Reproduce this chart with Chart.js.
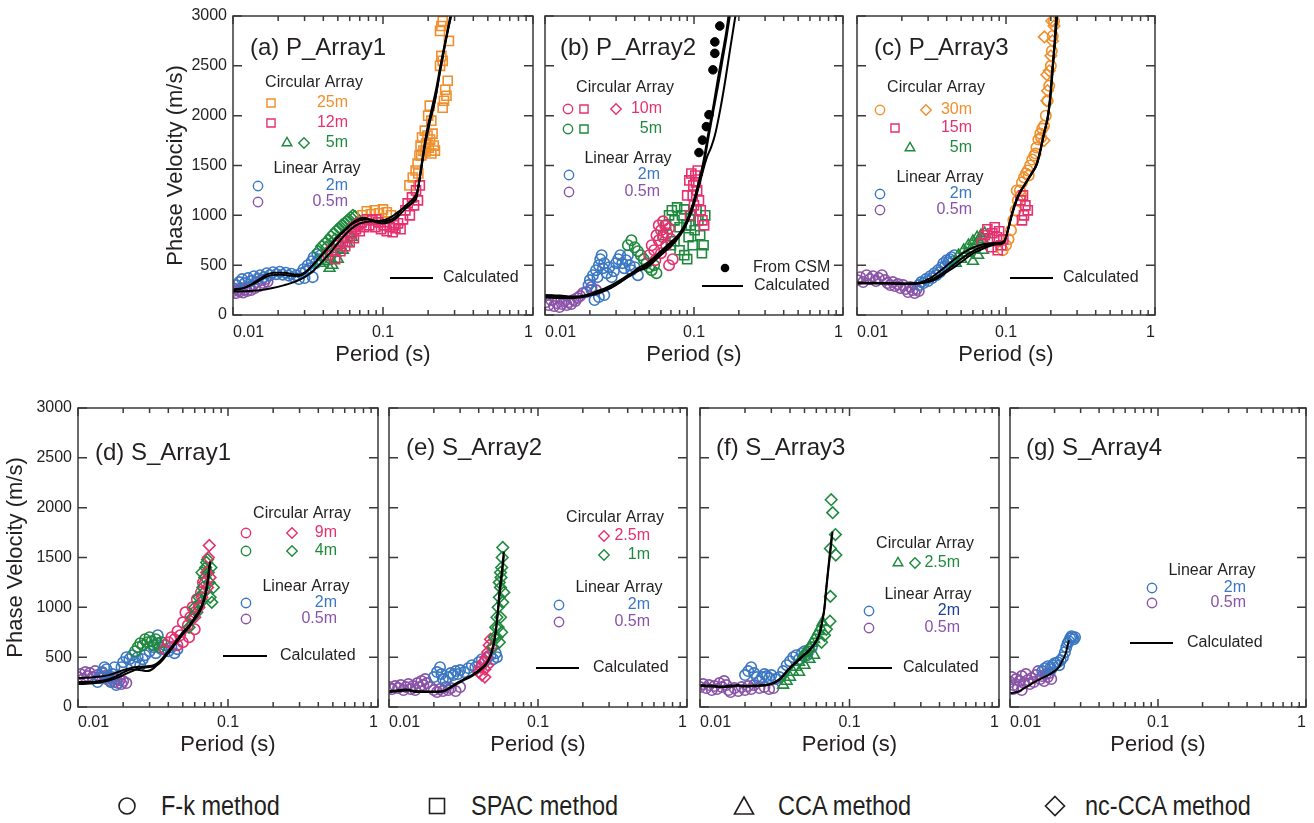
<!DOCTYPE html>
<html>
<head>
<meta charset="utf-8">
<script src="https://cdn.jsdelivr.net/npm/chart.js@4/dist/chart.umd.min.js"></script>
<style>
body { margin: 0; background: #fff; width: 1314px; height: 823px; position: relative; overflow: hidden; }
canvas { position: absolute; }
.key { position: absolute; top: 791px; font-family: 'Liberation Sans', Arial, sans-serif; font-size: 27px; line-height: 30px;
       color: #231f20; white-space: nowrap; transform: scaleX(0.87); transform-origin: 0 50%; }
</style>
</head>
<body>
<canvas id="pa"></canvas>
<canvas id="pb"></canvas>
<canvas id="pc"></canvas>
<canvas id="pd"></canvas>
<canvas id="pe"></canvas>
<canvas id="pf"></canvas>
<canvas id="pg"></canvas>

<svg width="1314" height="40" style="position:absolute;left:0;top:786" fill="none" stroke="#231f20" stroke-width="1.6">
  <circle cx="127" cy="20" r="8"/>
  <rect x="429.5" y="12.5" width="15" height="15"/>
  <polygon points="744,11 753.5,28 734.5,28"/>
  <polygon points="1055,10.5 1064.5,20 1055,29.5 1045.5,20"/>
</svg>
<div class="key" style="left:161px">F-k method</div>
<div class="key" style="left:471px">SPAC method</div>
<div class="key" style="left:778px">CCA method</div>
<div class="key" style="left:1085px">nc-CCA method</div>

<script>
var xTicks = [0.01, 0.1, 1];
var xMinorTicks = [0.02, 0.03, 0.04, 0.05, 0.06, 0.07, 0.08, 0.09, 0.2, 0.3, 0.4, 0.5, 0.6, 0.7, 0.8, 0.9];
var yTicks = [0, 500, 1000, 1500, 2000, 2500, 3000];

// (a) P_Array1
var aSpac25 = [[0.073,1000],[0.078,1040],[0.083,1010],[0.088,1050],[0.094,1020],[0.100,1060],[0.106,1030],[0.113,1000],[0.150,1300],[0.158,1380],[0.165,1450],[0.170,1520],[0.175,1600],[0.178,1700],[0.182,1780],[0.186,1650],[0.190,1850],[0.194,1720],[0.198,1800],[0.202,1680],[0.206,1760],[0.210,1620],[0.214,1820],[0.218,1700],[0.222,1650],[0.200,2000],[0.205,2100],[0.210,1950],[0.250,2080],[0.255,2150],[0.260,2260],[0.265,2200],[0.270,2350],[0.240,2500],[0.245,2600],[0.250,2550],[0.240,2850],[0.245,2900],[0.250,2950],[0.275,2750],[0.180,1600],[0.192,1640],[0.172,1420]];
var aSpac12 = [[0.043,600],[0.0455,650],[0.048,560],[0.050,700],[0.052,640],[0.054,740],[0.056,690],[0.058,780],[0.060,730],[0.062,820],[0.064,770],[0.066,860],[0.068,900],[0.070,840],[0.072,930],[0.075,880],[0.078,960],[0.081,900],[0.085,950],[0.089,880],[0.093,930],[0.097,860],[0.101,900],[0.106,840],[0.111,880],[0.116,830],[0.121,870],[0.126,920],[0.131,860],[0.136,960],[0.141,1050],[0.146,1120],[0.151,1000],[0.156,1180],[0.161,1100],[0.166,1250],[0.171,1150],[0.176,1300],[0.064,880],[0.070,920],[0.090,960],[0.118,900]];
var aCca5 = [[0.038,520],[0.040,580],[0.042,540],[0.044,470],[0.046,500],[0.048,620],[0.050,660],[0.052,700],[0.054,650],[0.056,760],[0.058,720],[0.060,820],[0.062,780],[0.045,560],[0.050,560]];
var aNcca5 = [[0.037,640],[0.039,690],[0.041,720],[0.043,750],[0.045,790],[0.047,820],[0.049,850],[0.051,870],[0.053,900],[0.055,920],[0.057,940],[0.059,960],[0.061,980],[0.063,1000],[0.065,990],[0.042,680],[0.048,760]];
var aFk2 = [[0.0105,300],[0.0110,330],[0.0115,360],[0.0120,320],[0.0126,370],[0.0132,340],[0.0138,390],[0.0145,360],[0.0152,400],[0.0160,380],[0.0168,420],[0.0176,400],[0.0185,430],[0.0195,410],[0.0205,435],[0.0215,405],[0.0225,425],[0.0235,395],[0.0245,415],[0.0255,380],[0.0265,400],[0.0275,360],[0.0285,420],[0.0295,460],[0.0305,440],[0.0315,500],[0.0325,470],[0.0335,540],[0.0345,580],[0.0355,520],[0.0365,610],[0.0375,560],[0.0385,600],[0.0300,370],[0.0340,380]];
var aFk05 = [[0.0100,240],[0.0102,265],[0.0105,220],[0.0108,250],[0.0111,235],[0.0114,270],[0.0117,225],[0.0120,255],[0.0124,240],[0.0128,280],[0.0132,250],[0.0136,300],[0.0140,270],[0.0145,330],[0.0150,290],[0.0155,350],[0.0160,320],[0.0165,360],[0.0170,335]];
var aCalc1 = [[0.0100,250],[0.0115,265],[0.0130,300],[0.0150,360],[0.0170,410],[0.0190,425],[0.0220,425],[0.0250,410],[0.0280,405],[0.0310,440],[0.0350,520],[0.0400,620],[0.0450,710],[0.0500,790],[0.0560,860],[0.0620,920],[0.0680,960],[0.0750,975],[0.0820,955],[0.0900,930],[0.1000,920],[0.1100,930],[0.1200,960],[0.1300,1010],[0.1400,1060],[0.1500,1100],[0.1600,1140],[0.1680,1190],[0.1800,1490],[0.1900,1720],[0.2050,1950],[0.2220,2160],[0.2400,2450],[0.2600,2730],[0.2850,3050]];
var aCalc2 = [[0.0100,255],[0.0120,275],[0.0140,320],[0.0160,370],[0.0180,400],[0.0210,405],[0.0240,395],[0.0270,390],[0.0300,420],[0.0340,500],[0.0390,600],[0.0450,700],[0.0500,780],[0.0560,850],[0.0620,910],[0.0700,950],[0.0800,960],[0.0900,945],[0.1000,940],[0.1100,950],[0.1200,980],[0.1300,1040],[0.1400,1090],[0.1500,1130],[0.1600,1170],[0.1700,1250],[0.1800,1470],[0.1900,1690],[0.2050,1930],[0.2220,2150],[0.2400,2440],[0.2600,2720],[0.2880,3050]];
var aCalc3 = [[0.0100,235],[0.0120,238],[0.0150,248],[0.0180,268],[0.0220,300],[0.0260,335],[0.0300,380],[0.0340,440],[0.0380,510],[0.0430,600],[0.0500,720],[0.0580,830],[0.0660,900],[0.0750,930],[0.0850,940],[0.0950,945],[0.1050,960],[0.1150,990],[0.1250,1030],[0.1400,1080],[0.1550,1120],[0.1650,1170],[0.1750,1350],[0.1850,1600],[0.1950,1830],[0.2100,2050],[0.2250,2250],[0.2450,2550],[0.2650,2800],[0.2900,3050]];

// (b) P_Array2
var bCsm = [[0.149,2900],[0.138,2740],[0.138,2625],[0.134,2460],[0.126,2010],[0.121,1890],[0.114,1755],[0.108,1630]];
var bSpac10 = [[0.090,1200],[0.093,1350],[0.096,1420],[0.099,1300],[0.102,1400],[0.105,1250],[0.108,1150],[0.111,1050],[0.114,950],[0.117,900],[0.100,1100],[0.094,1000],[0.106,1450],[0.098,1200],[0.103,1330]];
var bFk10 = [[0.050,600],[0.052,700],[0.054,650],[0.056,800],[0.058,750],[0.060,850],[0.062,780],[0.064,900],[0.066,820],[0.068,870],[0.070,760],[0.055,550],[0.060,620],[0.065,700],[0.072,560],[0.058,900],[0.062,940],[0.068,500]];
var bSpac5 = [[0.062,800],[0.065,900],[0.068,1000],[0.071,1050],[0.074,950],[0.077,1080],[0.080,880],[0.083,1000],[0.086,1060],[0.089,900],[0.092,780],[0.095,1000],[0.098,700],[0.101,850],[0.104,1050],[0.107,950],[0.110,800],[0.113,620],[0.116,700],[0.119,1000],[0.086,600],[0.090,560],[0.080,650],[0.074,740],[0.070,700],[0.095,900]];
var bFk5 = [[0.036,700],[0.038,750],[0.040,680],[0.042,640],[0.044,600],[0.046,560],[0.048,520],[0.050,480],[0.052,450],[0.054,500],[0.056,420]];
var bFk2 = [[0.0196,300],[0.0200,350],[0.0205,250],[0.0210,400],[0.0220,450],[0.0225,380],[0.0230,500],[0.0235,560],[0.0240,600],[0.0245,470],[0.0250,520],[0.0260,420],[0.0270,480],[0.0280,380],[0.0290,440],[0.0300,520],[0.0310,560],[0.0320,600],[0.0330,520],[0.0340,470],[0.0350,550],[0.0360,600],[0.0370,500],[0.0380,450],[0.0400,480],[0.0420,400],[0.0215,150],[0.0230,180],[0.0250,200]];
var bFk05 = [[0.0102,130],[0.0106,100],[0.0110,150],[0.0115,90],[0.0120,120],[0.0125,80],[0.0130,110],[0.0135,140],[0.0140,100],[0.0145,130],[0.0150,110],[0.0155,150],[0.0160,140],[0.0165,170],[0.0172,190],[0.0180,220],[0.0190,230],[0.0205,280],[0.0220,250]];
var bCalc1 = [[0.0100,190],[0.0125,185],[0.0150,180],[0.0168,185],[0.0190,200],[0.0220,235],[0.0250,265],[0.0280,300],[0.0320,350],[0.0370,410],[0.0420,450],[0.0475,490],[0.0550,570],[0.0630,650],[0.0710,720],[0.0800,800],[0.0890,920],[0.0980,1090],[0.1060,1270],[0.1150,1470],[0.1250,1780],[0.1350,2050],[0.1450,2300],[0.1550,2550],[0.1650,2780],[0.1760,3050]];
var bCalc2 = [[0.0100,200],[0.0125,195],[0.0150,185],[0.0168,180],[0.0190,190],[0.0220,220],[0.0250,250],[0.0280,280],[0.0320,330],[0.0370,390],[0.0420,440],[0.0475,470],[0.0550,550],[0.0630,630],[0.0710,700],[0.0800,790],[0.0890,910],[0.0980,1070],[0.1060,1250],[0.1150,1450],[0.1220,1580],[0.1300,1680],[0.1380,1800],[0.1500,2060],[0.1620,2350],[0.1740,2650],[0.1850,2900],[0.1920,3050]];
var bCalc3 = [[0.0100,175],[0.0125,170],[0.0150,170],[0.0168,175],[0.0190,190],[0.0220,210],[0.0250,240],[0.0280,275],[0.0320,330],[0.0370,400],[0.0420,470],[0.0475,510],[0.0550,590],[0.0630,670],[0.0710,740],[0.0800,820],[0.0890,940],[0.0980,1110],[0.1060,1300],[0.1150,1520],[0.1250,1830],[0.1350,2100],[0.1450,2380],[0.1550,2620],[0.1650,2850],[0.1720,3050]];

// (c) P_Array3
var cFk30 = [[0.095,650],[0.100,700],[0.104,760],[0.108,850],[0.112,950],[0.116,1050],[0.120,1150],[0.124,1250],[0.128,1330],[0.132,1380],[0.136,1420],[0.140,1450],[0.145,1500],[0.150,1560],[0.155,1600],[0.160,1680],[0.165,1760],[0.170,1820],[0.175,1870],[0.180,1900],[0.185,2000],[0.190,2150],[0.195,2300],[0.200,2500],[0.203,2650],[0.206,2800],[0.210,2950],[0.118,1250],[0.126,1200],[0.142,1400],[0.158,1620],[0.172,1780]];
var cNcca30 = [[0.190,2250],[0.195,2450],[0.200,2600],[0.205,2750],[0.210,2900],[0.188,2150],[0.188,2410],[0.181,2790],[0.203,2950],[0.180,1750]];
var cSpac15 = [[0.069,720],[0.072,800],[0.075,860],[0.078,760],[0.081,820],[0.084,880],[0.087,780],[0.090,840],[0.093,700],[0.096,760],[0.088,650],[0.080,680],[0.125,1150],[0.130,1200],[0.135,1100],[0.140,1050],[0.132,1000],[0.128,950]];
var cCca5 = [[0.046,520],[0.048,600],[0.050,560],[0.052,650],[0.054,620],[0.056,700],[0.058,660],[0.060,740],[0.062,700],[0.064,780],[0.066,740],[0.068,800],[0.070,760],[0.072,820],[0.060,540],[0.065,600],[0.070,650]];
var cFk2 = [[0.026,300],[0.027,330],[0.028,320],[0.029,360],[0.030,340],[0.031,390],[0.032,370],[0.033,420],[0.034,400],[0.035,450],[0.036,430],[0.037,480],[0.038,520],[0.039,490],[0.040,550],[0.041,530],[0.042,560],[0.043,580],[0.044,540],[0.045,600]];
var cFk05 = [[0.0100,350],[0.0105,380],[0.0110,330],[0.0116,400],[0.0122,360],[0.0128,390],[0.0134,340],[0.0140,370],[0.0147,400],[0.0154,350],[0.0160,320],[0.0167,300],[0.0174,330],[0.0180,290],[0.0188,310],[0.0196,270],[0.0204,300],[0.0212,260],[0.0220,230],[0.0228,280],[0.0236,250],[0.0244,220],[0.0252,260],[0.0260,240]];
var cCalc1 = [[0.0100,320],[0.0130,320],[0.0160,318],[0.0200,315],[0.0240,318],[0.0270,330],[0.0310,370],[0.0360,440],[0.0410,510],[0.0470,580],[0.0540,640],[0.0610,680],[0.0700,710],[0.0800,720],[0.0900,725],[0.0970,740],[0.1020,830],[0.1080,980],[0.1150,1120],[0.1240,1230],[0.1350,1320],[0.1500,1430],[0.1600,1500],[0.1700,1650],[0.1800,1820],[0.1920,2000],[0.2000,2250],[0.2060,2490],[0.2130,2750],[0.2200,3050]];
var cCalc2 = [[0.0100,325],[0.0160,320],[0.0220,315],[0.0260,320],[0.0300,340],[0.0350,390],[0.0400,450],[0.0460,520],[0.0530,590],[0.0600,640],[0.0680,680],[0.0780,705],[0.0880,715],[0.0970,730],[0.1030,850],[0.1100,1010],[0.1180,1150],[0.1260,1250],[0.1380,1340],[0.1520,1440],[0.1620,1520],[0.1720,1680],[0.1820,1850],[0.1940,2050],[0.2020,2300],[0.2080,2550],[0.2150,2800],[0.2220,3050]];
var cCalc3 = [[0.0100,315],[0.0160,315],[0.0220,310],[0.0260,315],[0.0300,330],[0.0340,360],[0.0390,420],[0.0450,480],[0.0520,550],[0.0590,610],[0.0670,650],[0.0770,690],[0.0870,710],[0.0960,720],[0.1010,800],[0.1070,950],[0.1140,1100],[0.1220,1210],[0.1330,1300],[0.1480,1420],[0.1580,1490],[0.1680,1620],[0.1780,1800],[0.1900,1980],[0.1980,2200],[0.2040,2450],[0.2110,2700],[0.2180,3050]];

// (d) S_Array1
var dNcca9 = [[0.060,900],[0.064,1000],[0.067,1100],[0.070,1250],[0.072,1350],[0.074,1500],[0.075,1620],[0.073,1200],[0.076,1300]];
var dFk9 = [[0.038,580],[0.040,650],[0.042,700],[0.044,680],[0.046,760],[0.048,720],[0.050,850],[0.052,950],[0.054,820],[0.056,900],[0.058,1000],[0.060,950],[0.062,1080],[0.064,1020],[0.066,1150],[0.068,1250],[0.046,620],[0.050,650],[0.055,700],[0.060,780]];
var dNcca4 = [[0.055,800],[0.058,900],[0.060,1000],[0.062,950],[0.064,1100],[0.066,1050],[0.068,1200],[0.070,1300],[0.071,1400],[0.072,1450],[0.073,1480],[0.074,1350],[0.075,1250],[0.076,1100],[0.078,1050],[0.080,1200],[0.077,1400],[0.069,1150],[0.067,1350]];
var dFk4 = [[0.024,560],[0.025,600],[0.026,640],[0.027,620],[0.028,680],[0.029,650],[0.030,700],[0.031,660],[0.032,620],[0.033,680],[0.034,640],[0.035,600],[0.036,650]];
var dFk2 = [[0.0135,250],[0.0140,300],[0.0145,350],[0.0150,400],[0.0155,380],[0.0160,300],[0.0165,250],[0.0170,330],[0.0175,400],[0.0180,220],[0.0195,400],[0.0200,450],[0.0210,500],[0.0220,480],[0.0230,520],[0.0240,450],[0.0250,500],[0.0260,420],[0.0270,480],[0.0280,520],[0.0300,560],[0.0320,600],[0.0340,720],[0.0330,540],[0.0360,580],[0.0380,620],[0.0400,560],[0.0420,600],[0.0440,540],[0.0460,580]];
var dFk05 = [[0.0100,300],[0.0104,330],[0.0108,280],[0.0112,350],[0.0116,310],[0.0120,340],[0.0125,300],[0.0130,360],[0.0135,320],[0.0140,290],[0.0145,340],[0.0150,310],[0.0155,280],[0.0160,300],[0.0165,260],[0.0170,290],[0.0175,250],[0.0180,280],[0.0185,240],[0.0190,270],[0.0195,230],[0.0200,260],[0.0210,240]];
var dCalc1 = [[0.0100,290],[0.0120,295],[0.0140,305],[0.0160,320],[0.0180,345],[0.0200,370],[0.0230,395],[0.0260,405],[0.0290,410],[0.0320,420],[0.0350,460],[0.0380,520],[0.0420,600],[0.0460,680],[0.0500,750],[0.0550,820],[0.0600,900],[0.0650,980],[0.0690,1080],[0.0720,1200],[0.0740,1320],[0.0760,1440]];
var dCalc2 = [[0.0100,230],[0.0120,235],[0.0140,245],[0.0160,265],[0.0180,290],[0.0200,320],[0.0230,360],[0.0260,390],[0.0290,400],[0.0320,405],[0.0350,440],[0.0380,500],[0.0420,580],[0.0460,660],[0.0500,730],[0.0550,800],[0.0600,880],[0.0650,960],[0.0690,1060],[0.0720,1180],[0.0740,1300],[0.0760,1460]];
var dCalc3 = [[0.0100,250],[0.0120,250],[0.0140,260],[0.0160,280],[0.0180,310],[0.0200,345],[0.0230,380],[0.0260,370],[0.0290,360],[0.0320,390],[0.0350,450],[0.0380,510],[0.0420,590],[0.0460,670],[0.0500,740],[0.0550,810],[0.0600,890],[0.0650,970],[0.0690,1070],[0.0720,1190],[0.0740,1310],[0.0750,1420]];

// (e) S_Array2
var eNcca25 = [[0.040,350],[0.041,400],[0.042,320],[0.043,450],[0.044,380],[0.045,500],[0.046,550],[0.047,620],[0.048,680],[0.046,420],[0.044,300],[0.049,600]];
var eNcca1 = [[0.050,600],[0.051,700],[0.052,800],[0.053,900],[0.054,1000],[0.055,1100],[0.056,1200],[0.0565,1300],[0.057,1400],[0.0575,1500],[0.058,1600],[0.056,1350],[0.055,1250],[0.054,800],[0.053,700],[0.055,650],[0.057,750],[0.056,900],[0.059,1150],[0.058,1050]];
var eFk2 = [[0.020,300],[0.021,350],[0.022,400],[0.0225,330],[0.023,280],[0.024,260],[0.025,300],[0.026,340],[0.027,320],[0.028,360],[0.029,330],[0.030,370],[0.032,350],[0.034,390],[0.036,420],[0.038,400],[0.040,450],[0.042,480],[0.044,460],[0.046,500],[0.048,520],[0.050,480],[0.052,540],[0.053,500]];
var eFk05 = [[0.0100,200],[0.0105,180],[0.0110,210],[0.0115,190],[0.0120,220],[0.0125,170],[0.0130,200],[0.0135,230],[0.0140,180],[0.0145,210],[0.0150,170],[0.0155,240],[0.0160,200],[0.0165,260],[0.0170,220],[0.0175,280],[0.0180,240],[0.0190,200],[0.0200,170],[0.0210,150],[0.0220,180],[0.0230,160],[0.0240,200],[0.0250,170],[0.0260,190],[0.0280,160],[0.0300,200]];
var eCalc1 = [[0.0100,160],[0.0120,170],[0.0130,175],[0.0150,160],[0.0180,155],[0.0210,155],[0.0240,170],[0.0270,220],[0.0310,270],[0.0360,320],[0.0410,380],[0.0450,440],[0.0480,520],[0.0500,620],[0.0520,760],[0.0540,1000],[0.0550,1150],[0.0570,1350],[0.0590,1560]];
var eCalc2 = [[0.0100,150],[0.0120,160],[0.0135,165],[0.0150,150],[0.0180,150],[0.0210,150],[0.0240,165],[0.0270,210],[0.0310,260],[0.0360,310],[0.0410,370],[0.0450,430],[0.0480,510],[0.0500,600],[0.0520,740],[0.0540,970],[0.0555,1150],[0.0575,1350],[0.0590,1520]];

// (f) S_Array3
var fNcca25 = [[0.0754,2080],[0.0772,1950],[0.0805,1730],[0.0745,1590],[0.081,1525],[0.0745,1110],[0.074,860],[0.068,720],[0.065,650],[0.070,780]];
var fCca25 = [[0.036,220],[0.038,260],[0.040,300],[0.042,350],[0.044,400],[0.046,450],[0.048,500],[0.050,540],[0.052,560],[0.054,600],[0.056,640],[0.058,680],[0.060,720],[0.062,760],[0.064,800],[0.066,850],[0.046,350],[0.050,420],[0.054,480],[0.058,520]];
var fFk2 = [[0.020,320],[0.021,360],[0.022,400],[0.023,340],[0.024,300],[0.025,260],[0.026,300],[0.027,330],[0.028,310],[0.029,290],[0.030,320],[0.032,280],[0.034,300],[0.036,360],[0.038,420],[0.040,460],[0.042,500],[0.044,520],[0.046,480],[0.048,540],[0.050,560],[0.052,520],[0.054,580],[0.056,600]];
var fFk05 = [[0.0100,200],[0.0105,230],[0.0110,190],[0.0115,220],[0.0120,170],[0.0125,210],[0.0130,180],[0.0135,240],[0.0140,200],[0.0145,260],[0.0150,220],[0.0155,170],[0.0160,150],[0.0170,190],[0.0180,160],[0.0190,200],[0.0200,170],[0.0210,210],[0.0220,180],[0.0230,220],[0.0250,190],[0.0270,200],[0.0290,180],[0.0310,190]];
var fCalc1 = [[0.0100,220],[0.0120,215],[0.0140,205],[0.0160,215],[0.0180,220],[0.0200,210],[0.0230,215],[0.0260,220],[0.0300,235],[0.0340,280],[0.0390,380],[0.0440,455],[0.0490,520],[0.0540,575],[0.0590,650],[0.0630,740],[0.0660,880],[0.0680,1000],[0.0700,1200],[0.0715,1340],[0.0740,1550],[0.0764,1740]];
var fCalc2 = [[0.0100,210],[0.0120,205],[0.0140,200],[0.0160,205],[0.0180,212],[0.0200,205],[0.0230,208],[0.0260,212],[0.0300,228],[0.0340,270],[0.0390,370],[0.0440,445],[0.0490,510],[0.0540,565],[0.0590,640],[0.0630,730],[0.0660,870],[0.0680,990],[0.0700,1190],[0.0720,1360],[0.0745,1560],[0.0770,1760]];

// (g) S_Array4
var gFk2 = [[0.0165,360],[0.0172,390],[0.0180,410],[0.0188,400],[0.0195,420],[0.0200,440],[0.0210,450],[0.0220,470],[0.0228,500],[0.0235,550],[0.0240,600],[0.0245,640],[0.0250,660],[0.0255,690],[0.0260,710],[0.0265,700],[0.0270,680],[0.0275,700],[0.0190,380],[0.0215,420]];
var gFk05 = [[0.0100,250],[0.0103,300],[0.0106,220],[0.0110,280],[0.0113,200],[0.0116,260],[0.0120,310],[0.0124,240],[0.0128,330],[0.0132,270],[0.0136,230],[0.0140,290],[0.0145,250],[0.0150,320],[0.0155,360],[0.0160,280],[0.0165,310],[0.0170,260],[0.0175,330],[0.0180,300],[0.0185,340],[0.0190,280],[0.0105,180],[0.0120,170]];
var gCalc1 = [[0.0100,140],[0.0108,145],[0.0116,160],[0.0125,190],[0.0134,215],[0.0142,240],[0.0155,270],[0.0170,300],[0.0184,325],[0.0200,360],[0.0214,400],[0.0225,460],[0.0238,540],[0.0250,670]];

var ORANGE = '#ef8f2e', PINK = '#e5316f', GREEN = '#1f8a3d', BLUE = '#3b77c2', DBLUE = '#1d3f96', PURPLE = '#8a53a8', INK = '#231f20';
var FONT = "'Liberation Sans', Arial, Helvetica, sans-serif";
var RADIUS = { circle: 5.2, rect: 6.4, triangle: 6.2, rectRot: 5.8, dot: 4.3 };

Chart.defaults.font.family = FONT;
Chart.defaults.color = INK;

function pts(data, color, shape) {
  return {
    data: data, showLine: false, pointStyle: shape, pointRadius: RADIUS[shape],
    pointBorderColor: color, pointBackgroundColor: 'rgba(0,0,0,0)', pointBorderWidth: 1.6
  };
}
function dots(data) {
  return { data: data, showLine: false, pointStyle: 'circle', pointRadius: RADIUS.dot,
    pointBorderColor: '#000', pointBackgroundColor: '#000', pointBorderWidth: 1 };
}
function calc(data) {
  return { data: data, showLine: true, pointRadius: 0, borderColor: '#000', borderWidth: 2,
    cubicInterpolationMode: 'monotone', fill: false, clip: 0 };
}

function drawMark(ctx, shape, x, y, color) {
  var r = shape === 'dot' ? RADIUS.dot : RADIUS[shape] * 0.9;
  ctx.save();
  ctx.strokeStyle = color; ctx.fillStyle = color; ctx.lineWidth = 1.4;
  ctx.beginPath();
  if (shape === 'circle' || shape === 'dot') {
    ctx.arc(x, y, r, 0, Math.PI * 2);
  } else if (shape === 'rect') {
    var s = r * Math.SQRT1_2;
    ctx.rect(x - s, y - s, 2 * s, 2 * s);
  } else if (shape === 'triangle') {
    ctx.moveTo(x, y - r);
    ctx.lineTo(x + r * Math.sin(2 * Math.PI / 3), y - r * Math.cos(2 * Math.PI / 3));
    ctx.lineTo(x + r * Math.sin(4 * Math.PI / 3), y - r * Math.cos(4 * Math.PI / 3));
    ctx.closePath();
  } else if (shape === 'rectRot') {
    ctx.moveTo(x, y - r); ctx.lineTo(x + r, y); ctx.lineTo(x, y + r); ctx.lineTo(x - r, y);
    ctx.closePath();
  }
  if (shape === 'dot') ctx.fill(); else ctx.stroke();
  ctx.restore();
}

// frame, inward ticks, panel label and the in-plot keys
function decoPlugin(title, notes) {
  return {
    id: 'deco',
    afterDraw: function (chart) {
      var ctx = chart.ctx, a = chart.chartArea, xs = chart.scales.x, ys = chart.scales.y;
      ctx.save();
      ctx.strokeStyle = '#3a3a3a';
      ctx.lineWidth = 1.5;
      ctx.strokeRect(a.left, a.top, a.right - a.left, a.bottom - a.top);
      ctx.beginPath();
      xMinorTicks.forEach(function (v) {
        var px = xs.getPixelForValue(v);
        ctx.moveTo(px, a.top); ctx.lineTo(px, a.top + 5);
        ctx.moveTo(px, a.bottom); ctx.lineTo(px, a.bottom - 5);
      });
      xTicks.forEach(function (v) {
        var px = xs.getPixelForValue(v);
        ctx.moveTo(px, a.top); ctx.lineTo(px, a.top + 8);
        ctx.moveTo(px, a.bottom); ctx.lineTo(px, a.bottom - 8);
      });
      yTicks.forEach(function (v) {
        var py = ys.getPixelForValue(v);
        ctx.moveTo(a.left, py); ctx.lineTo(a.left + 9, py);
        ctx.moveTo(a.right, py); ctx.lineTo(a.right - 9, py);
      });
      ctx.stroke();

      ctx.fillStyle = INK;
      ctx.textBaseline = 'middle';
      ctx.textAlign = 'left';
      ctx.font = '24px ' + FONT;
      ctx.fillText(title[0], a.left + title[1], a.top + title[2]);

      ctx.font = '16px ' + FONT;
      notes.forEach(function (n) {
        var x = a.left + n.x, y = a.top + n.y;
        if (n.mark) {
          drawMark(ctx, n.mark, x, y, n.c);
        } else if (n.line) {
          ctx.strokeStyle = '#000'; ctx.lineWidth = 2;
          ctx.beginPath(); ctx.moveTo(x, y); ctx.lineTo(a.left + n.line, y); ctx.stroke();
        } else {
          ctx.fillStyle = n.c || INK;
          ctx.textAlign = n.al || 'left';
          ctx.fillText(n.t, x, y);
        }
      });
      ctx.restore();
    }
  };
}

function makePanel(id, g, datasets, title, notes) {
  var c = document.getElementById(id);
  var pt = 16, pr = 10;
  c.width = g.lw + g.w + pr;
  c.height = pt + 299 + g.bh;
  c.style.left = (g.left - g.lw) + 'px';
  c.style.top = (g.top - pt) + 'px';
  new Chart(c, {
    type: 'scatter',
    data: { datasets: datasets },
    options: {
      responsive: false, animation: false, devicePixelRatio: 1, events: [],
      layout: { padding: { top: pt, right: pr, left: 0, bottom: 0 } },
      plugins: { legend: { display: false }, tooltip: { enabled: false } },
      scales: {
        x: {
          type: 'logarithmic', min: 0.01, max: 1,
          afterBuildTicks: function (s) { s.ticks = xTicks.map(function (v) { return { value: v }; }); },
          afterFit: function (s) { s.height = g.bh; },
          grid: { display: false, drawTicks: false }, border: { display: false },
          ticks: { autoSkip: false, maxRotation: 0, align: 'inner', padding: g.xpad, color: INK,
                   font: { size: 16 }, callback: function (v) { return String(v); } },
          title: { display: true, text: 'Period (s)', color: INK, font: { size: 22 }, padding: { top: 0, bottom: 3 } }
        },
        y: {
          min: 0, max: 3000,
          afterBuildTicks: function (s) { s.ticks = yTicks.map(function (v) { return { value: v }; }); },
          afterFit: function (s) { s.width = g.lw; },
          grid: { display: false, drawTicks: false }, border: { display: false },
          ticks: { display: g.ylab, padding: 6, color: INK, font: { size: 16 },
                   callback: function (v) { return String(v); } },
          title: { display: g.ylab, text: 'Phase Velocity (m/s)', color: INK, font: { size: 22 }, padding: { top: 0, bottom: 0 } }
        }
      }
    },
    plugins: [decoPlugin(title, notes)]
  });
}

makePanel('pa', { left: 233, top: 16, w: 300, lw: 70, bh: 56, xpad: 8, ylab: true }, [
  calc(aCalc1), calc(aCalc2), calc(aCalc3),
  pts(aSpac12, PINK, 'rect'), pts(aSpac25, ORANGE, 'rect'),
  pts(aCca5, GREEN, 'triangle'), pts(aNcca5, GREEN, 'rectRot'),
  pts(aFk2, BLUE, 'circle'), pts(aFk05, PURPLE, 'circle')
], ['(a) P_Array1', 17, 32], [
  { t: 'Circular Array', x: 81, y: 67, al: 'center' },
  { mark: 'rect', c: ORANGE, x: 38, y: 87 }, { t: '25m', c: ORANGE, x: 115, y: 87, al: 'right' },
  { mark: 'rect', c: PINK, x: 38, y: 107 }, { t: '12m', c: PINK, x: 115, y: 107, al: 'right' },
  { mark: 'triangle', c: GREEN, x: 54, y: 127 }, { mark: 'rectRot', c: GREEN, x: 71, y: 127 },
  { t: '5m', c: GREEN, x: 115, y: 127, al: 'right' },
  { t: 'Linear Array', x: 84, y: 153, al: 'center' },
  { mark: 'circle', c: BLUE, x: 25, y: 170 }, { t: '2m', c: BLUE, x: 115, y: 170, al: 'right' },
  { mark: 'circle', c: PURPLE, x: 25, y: 186 }, { t: '0.5m', c: PURPLE, x: 115, y: 186, al: 'right' },
  { line: 200, x: 157, y: 262 }, { t: 'Calculated', x: 210, y: 262 }
]);

makePanel('pb', { left: 545, top: 16, w: 298, lw: 12, bh: 56, xpad: 8, ylab: false }, [
  calc(bCalc1), calc(bCalc2), calc(bCalc3), dots(bCsm),
  pts(bSpac10, PINK, 'rect'), pts(bFk10, PINK, 'circle'),
  pts(bSpac5, GREEN, 'rect'), pts(bFk5, GREEN, 'circle'),
  pts(bFk2, BLUE, 'circle'), pts(bFk05, PURPLE, 'circle')
], ['(b) P_Array2', 15, 32], [
  { t: 'Circular Array', x: 80, y: 72, al: 'center' },
  { mark: 'circle', c: PINK, x: 23, y: 93 }, { mark: 'rect', c: PINK, x: 39, y: 93 }, { mark: 'rectRot', c: PINK, x: 71, y: 93 },
  { t: '10m', c: PINK, x: 117, y: 93, al: 'right' },
  { mark: 'circle', c: GREEN, x: 23, y: 113 }, { mark: 'rect', c: GREEN, x: 39, y: 113 },
  { t: '5m', c: GREEN, x: 117, y: 113, al: 'right' },
  { t: 'Linear Array', x: 83, y: 143, al: 'center' },
  { mark: 'circle', c: BLUE, x: 24, y: 159 }, { t: '2m', c: BLUE, x: 115, y: 159, al: 'right' },
  { mark: 'circle', c: PURPLE, x: 24, y: 176 }, { t: '0.5m', c: PURPLE, x: 115, y: 176, al: 'right' },
  { mark: 'dot', c: '#000', x: 180, y: 252 }, { t: 'From CSM', x: 208, y: 252 },
  { line: 198, x: 157, y: 270 }, { t: 'Calculated', x: 209, y: 270 }
]);

makePanel('pc', { left: 857, top: 16, w: 298, lw: 12, bh: 56, xpad: 8, ylab: false }, [
  calc(cCalc1), calc(cCalc2), calc(cCalc3),
  pts(cSpac15, PINK, 'rect'), pts(cFk30, ORANGE, 'circle'), pts(cNcca30, ORANGE, 'rectRot'),
  pts(cCca5, GREEN, 'triangle'), pts(cFk2, BLUE, 'circle'), pts(cFk05, PURPLE, 'circle')
], ['(c) P_Array3', 17, 32], [
  { t: 'Circular Array', x: 79, y: 72, al: 'center' },
  { mark: 'circle', c: ORANGE, x: 23, y: 94 }, { mark: 'rectRot', c: ORANGE, x: 69, y: 94 },
  { t: '30m', c: ORANGE, x: 115, y: 94, al: 'right' },
  { mark: 'rect', c: PINK, x: 38, y: 112 }, { t: '15m', c: PINK, x: 115, y: 112, al: 'right' },
  { mark: 'triangle', c: GREEN, x: 53, y: 132 }, { t: '5m', c: GREEN, x: 115, y: 132, al: 'right' },
  { t: 'Linear Array', x: 83, y: 162, al: 'center' },
  { mark: 'circle', c: BLUE, x: 23, y: 178 }, { t: '2m', c: BLUE, x: 115, y: 178, al: 'right' },
  { mark: 'circle', c: PURPLE, x: 23, y: 194 }, { t: '0.5m', c: PURPLE, x: 115, y: 194, al: 'right' },
  { line: 196, x: 153, y: 262 }, { t: 'Calculated', x: 206, y: 262 }
]);

makePanel('pd', { left: 78, top: 408, w: 300, lw: 75, bh: 54, xpad: 6, ylab: true }, [
  calc(dCalc1), calc(dCalc2), calc(dCalc3),
  pts(dNcca9, PINK, 'rectRot'), pts(dNcca4, GREEN, 'rectRot'), pts(dFk9, PINK, 'circle'),
  pts(dFk4, GREEN, 'circle'), pts(dFk2, BLUE, 'circle'), pts(dFk05, PURPLE, 'circle')
], ['(d) S_Array1', 17, 45], [
  { t: 'Circular Array', x: 224, y: 106, al: 'center' },
  { mark: 'circle', c: PINK, x: 168, y: 125 }, { mark: 'rectRot', c: PINK, x: 214, y: 125 },
  { t: '9m', c: PINK, x: 259, y: 125, al: 'right' },
  { mark: 'circle', c: GREEN, x: 168, y: 143 }, { mark: 'rectRot', c: GREEN, x: 214, y: 143 },
  { t: '4m', c: GREEN, x: 259, y: 143, al: 'right' },
  { t: 'Linear Array', x: 228, y: 179, al: 'center' },
  { mark: 'circle', c: BLUE, x: 168, y: 195 }, { t: '2m', c: BLUE, x: 259, y: 195, al: 'right' },
  { mark: 'circle', c: PURPLE, x: 168, y: 211 }, { t: '0.5m', c: PURPLE, x: 259, y: 211, al: 'right' },
  { line: 189, x: 145, y: 248 }, { t: 'Calculated', x: 202, y: 248 }
]);

makePanel('pe', { left: 389, top: 408, w: 298, lw: 12, bh: 54, xpad: 6, ylab: false }, [
  calc(eCalc1), calc(eCalc2),
  pts(eNcca1, GREEN, 'rectRot'), pts(eNcca25, PINK, 'rectRot'),
  pts(eFk2, BLUE, 'circle'), pts(eFk05, PURPLE, 'circle')
], ['(e) S_Array2', 17, 40], [
  { t: 'Circular Array', x: 226, y: 110, al: 'center' },
  { mark: 'rectRot', c: PINK, x: 215, y: 128 }, { t: '2.5m', c: PINK, x: 261, y: 128, al: 'right' },
  { mark: 'rectRot', c: GREEN, x: 215, y: 147 }, { t: '1m', c: GREEN, x: 261, y: 147, al: 'right' },
  { t: 'Linear Array', x: 230, y: 180, al: 'center' },
  { mark: 'circle', c: BLUE, x: 170, y: 197 }, { t: '2m', c: BLUE, x: 261, y: 197, al: 'right' },
  { mark: 'circle', c: PURPLE, x: 170, y: 214 }, { t: '0.5m', c: PURPLE, x: 261, y: 214, al: 'right' },
  { line: 190, x: 147, y: 260 }, { t: 'Calculated', x: 204, y: 260 }
]);

makePanel('pf', { left: 700, top: 408, w: 299, lw: 12, bh: 54, xpad: 6, ylab: false }, [
  calc(fCalc1), calc(fCalc2),
  pts(fNcca25, GREEN, 'rectRot'), pts(fCca25, GREEN, 'triangle'),
  pts(fFk2, BLUE, 'circle'), pts(fFk05, PURPLE, 'circle')
], ['(f) S_Array3', 16, 40], [
  { t: 'Circular Array', x: 225, y: 136, al: 'center' },
  { mark: 'triangle', c: GREEN, x: 198, y: 155 }, { mark: 'rectRot', c: GREEN, x: 215, y: 155 },
  { t: '2.5m', c: GREEN, x: 260, y: 155, al: 'right' },
  { t: 'Linear Array', x: 228, y: 187, al: 'center' },
  { mark: 'circle', c: BLUE, x: 169, y: 203 }, { t: '2m', c: DBLUE, x: 260, y: 203, al: 'right' },
  { mark: 'circle', c: PURPLE, x: 169, y: 220 }, { t: '0.5m', c: PURPLE, x: 260, y: 220, al: 'right' },
  { line: 192, x: 148, y: 260 }, { t: 'Calculated', x: 203, y: 260 }
]);

makePanel('pg', { left: 1010, top: 408, w: 296, lw: 12, bh: 54, xpad: 6, ylab: false }, [
  calc(gCalc1), pts(gFk2, BLUE, 'circle'), pts(gFk05, PURPLE, 'circle')
], ['(g) S_Array4', 16, 40], [
  { t: 'Linear Array', x: 202, y: 163, al: 'center' },
  { mark: 'circle', c: BLUE, x: 142, y: 180 }, { t: '2m', c: BLUE, x: 236, y: 180, al: 'right' },
  { mark: 'circle', c: PURPLE, x: 142, y: 195 }, { t: '0.5m', c: PURPLE, x: 236, y: 195, al: 'right' },
  { line: 163, x: 120, y: 235 }, { t: 'Calculated', x: 177, y: 235 }
]);
</script>
</body>
</html>
